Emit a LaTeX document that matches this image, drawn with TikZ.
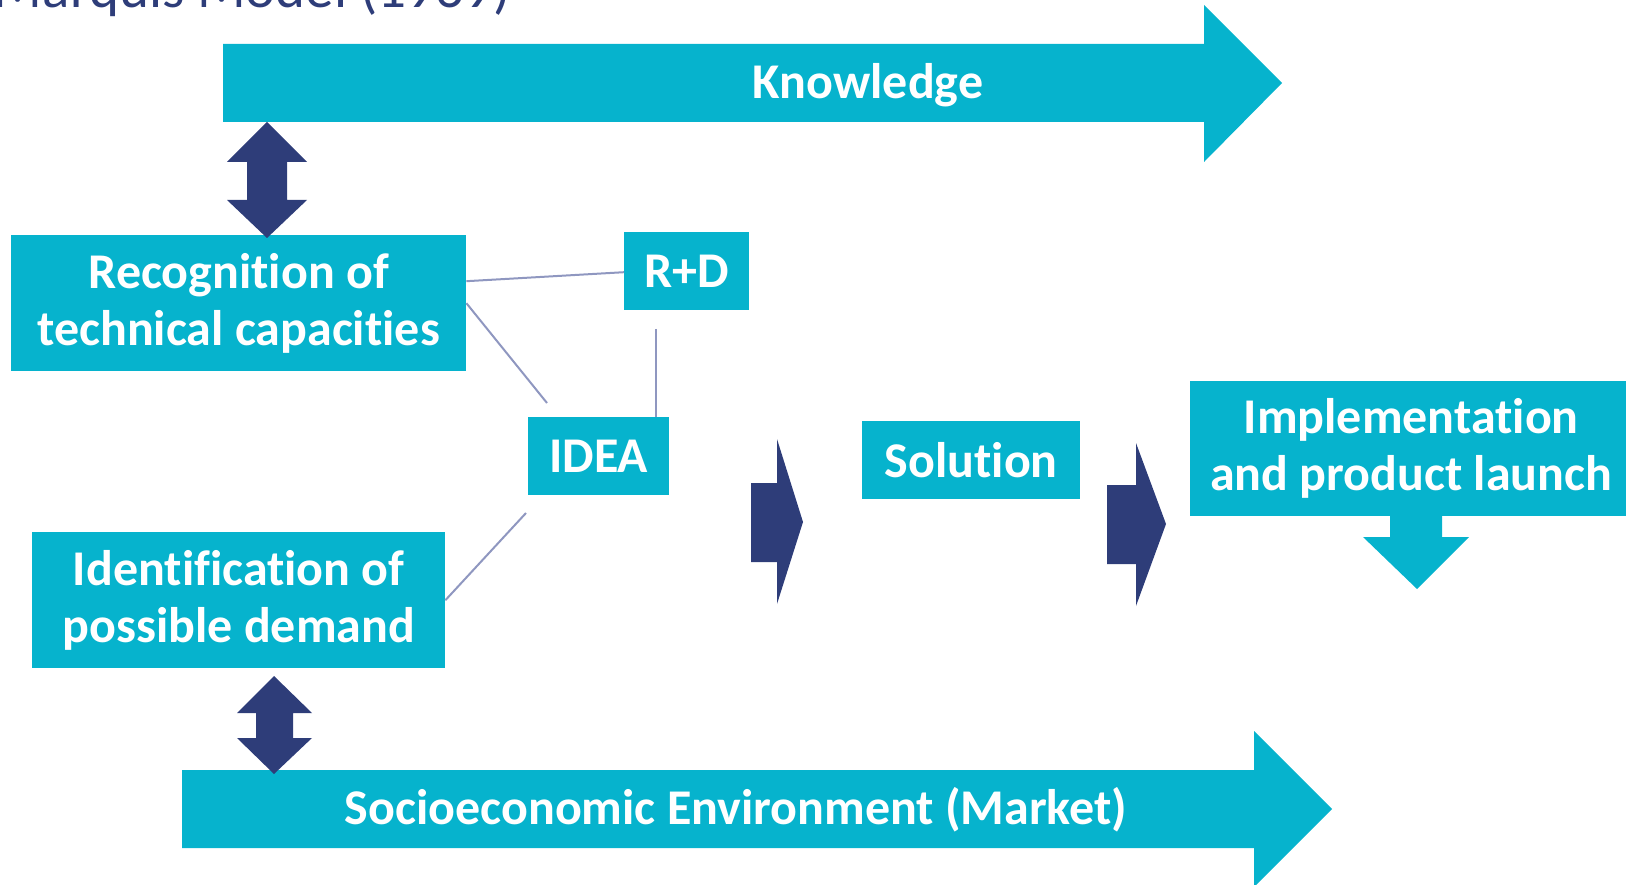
\documentclass[tikz,border=0pt]{standalone}
\usepackage{fontspec}
\setmainfont{Carlito}[RawFeature={-liga}]
\usetikzlibrary{positioning,calc}

\definecolor{boxcyan}{HTML}{06B3CD}
\definecolor{arrownavy}{HTML}{2E3D79}
\definecolor{linkgray}{HTML}{8F97C0}

\begin{document}
\begin{tikzpicture}[x=1pt,y=-1pt]

\tikzset{box/.style={fill=boxcyan,text=white,align=center,inner sep=0pt,
                     font=\bfseries\fontsize{50}{57}\selectfont}}
\tikzset{label/.style={text=white,font=\bfseries\fontsize{50}{57}\selectfont}}
\tikzset{link/.style={draw=linkgray,line width=2pt}}

\useasboundingbox (0,0) rectangle (1626,885);

% title, cut off at the top
\node[text=arrownavy,font=\fontsize{57}{60}\selectfont,anchor=base east] (title)
      at (514,8) {Marquis Model (1969)};

% big arrows
\fill[boxcyan] (223,44) -- (1204,44) -- (1204,5) -- (1282,83) -- (1204,162)
               -- (1204,122) -- (223,122) -- cycle;
\node[label] (know) at (868,85) {Knowledge};

\fill[boxcyan] (182,770) -- (1254,770) -- (1254,731) -- (1332,809) -- (1254,887)
               -- (1254,848) -- (182,848) -- cycle;
\node[label] (market) at (736,810) {Socioeconomic Environment (Market)};

% boxes
\node[box,minimum width=455,minimum height=136,anchor=north west] (rec) at (11,235)
      {Recognition of\\technical capacities};
\node[box,minimum width=413,minimum height=136,anchor=north west] (iden) at (32,532)
      {Identification of\\possible demand};
\node[box,minimum width=125,minimum height=78,anchor=north west] (rd) at (624,232) {R+D};
\node[box,minimum width=141,minimum height=78,anchor=north west] (idea) at (528,417) {IDEA};
\node[box,minimum width=218,minimum height=78,anchor=north west] (sol) at (862,421) {Solution};
\node[box,minimum width=442,minimum height=135,anchor=north west] (impl) at (1190,381)
      {Implementation\\and product launch};

% double arrows
\fill[arrownavy] (267,122) -- (307,162) -- (287,162) -- (287,200) -- (307,200) -- (267,238)
                 -- (227,200) -- (247,200) -- (247,162) -- (227,162) -- cycle;
\fill[arrownavy] (274,676) -- (312,713) -- (293,713) -- (293,738) -- (312,738) -- (274,774)
                 -- (237,738) -- (256,738) -- (256,713) -- (237,713) -- cycle;

% forward arrows
\fill[arrownavy] (751,483) -- (777,483) -- (777,439) -- (803,522) -- (777,604)
                 -- (777,562) -- (751,562) -- cycle;
\fill[arrownavy] (1107,485) -- (1136,485) -- (1136,443) -- (1166,524) -- (1136,606)
                 -- (1136,564) -- (1107,564) -- cycle;

% launch arrow
\fill[boxcyan] (1390,515) -- (1442,515) -- (1442,537) -- (1469,537) -- (1417,589)
               -- (1363,537) -- (1390,537) -- cycle;

% links
\coordinate (rdfoot) at (656,329);
\coordinate (ideatop) at (656,417);
\coordinate (ideanw) at (547,403);
\coordinate (ideasw) at (526,513);
\draw[link] ([yshift=22pt]rec.east) -- ([yshift=-1pt]rd.west);
\draw[link] (rec.east) -- (ideanw);
\draw[link] (rdfoot) -- (ideatop);
\draw[link] (iden.east) -- (ideasw);

\end{tikzpicture}
\end{document}
